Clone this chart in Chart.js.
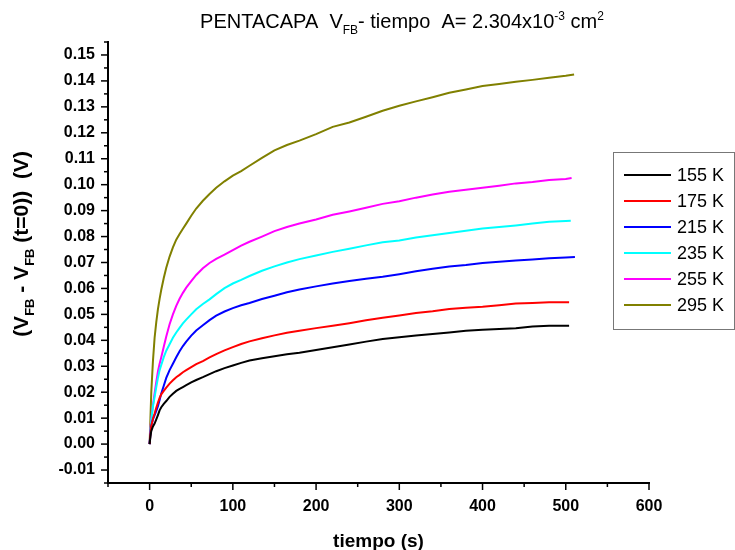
<!DOCTYPE html>
<html>
<head>
<meta charset="utf-8">
<script src="https://cdn.jsdelivr.net/npm/chart.js@4.4.0/dist/chart.umd.min.js"></script>
<style>
  html, body { margin: 0; padding: 0; background: #fff; }
</style>
</head>
<body>
<canvas id="chart" width="735" height="550"></canvas>
<script>
// tiempo (s), comun a todas las curvas
const tiempo = [0, 1, 2, 4, 6, 8, 10, 12, 14, 17, 20, 24, 28, 32, 36, 40, 44, 50, 56, 64, 72, 80, 90, 100,
  110, 120, 135, 150, 165, 180, 200, 220, 240, 260, 280, 300, 320, 340, 360, 380, 400, 420, 440, 460, 480, 500];
// ultimo punto de cada curva
const tiempoFinal = [504, 504, 511, 506, 507, 510];

// V_FB - V_FB(t=0)  (V)
const v155 = [0, 0.003, 0.005, 0.0068, 0.0079, 0.0095, 0.0112, 0.0130, 0.0142, 0.0155, 0.0166, 0.0182, 0.0194, 0.0205, 0.0213, 0.0220, 0.0227, 0.0238, 0.0247, 0.0258, 0.0270, 0.0281, 0.0293, 0.0303,
  0.0313, 0.0322, 0.0331, 0.0339, 0.0346, 0.0352, 0.0363, 0.0373, 0.0384, 0.0395, 0.0405, 0.0412, 0.0419, 0.0424, 0.0430, 0.0437, 0.0441, 0.0444, 0.0447, 0.0453, 0.0456, 0.0456, 0.0456];
const v175 = [0, 0.004, 0.007, 0.0098, 0.0118, 0.0140, 0.0160, 0.0178, 0.0192, 0.0205, 0.0218, 0.0233, 0.0246, 0.0258, 0.0267, 0.0277, 0.0285, 0.0297, 0.0308, 0.0320, 0.0334, 0.0347, 0.0361, 0.0374,
  0.0386, 0.0396, 0.0408, 0.0419, 0.0429, 0.0437, 0.0447, 0.0456, 0.0466, 0.0477, 0.0487, 0.0496, 0.0505, 0.0512, 0.0521, 0.0526, 0.0529, 0.0535, 0.0542, 0.0544, 0.0547, 0.0547, 0.0547];
const v215 = [0, 0.004, 0.007, 0.0095, 0.0112, 0.0128, 0.0146, 0.0170, 0.0195, 0.0225, 0.0255, 0.0285, 0.0310, 0.0335, 0.0358, 0.0378, 0.0395, 0.0418, 0.0438, 0.0458, 0.0478, 0.0495, 0.0511, 0.0524,
  0.0535, 0.0544, 0.0559, 0.0572, 0.0585, 0.0596, 0.0608, 0.0619, 0.0629, 0.0637, 0.0645, 0.0655, 0.0666, 0.0676, 0.0685, 0.0690, 0.0698, 0.0703, 0.0708, 0.0712, 0.0716, 0.0719, 0.0721];
const v235 = [0, 0.005, 0.009, 0.0145, 0.0182, 0.0220, 0.0255, 0.0285, 0.0305, 0.0335, 0.0360, 0.0385, 0.0410, 0.0430, 0.0448, 0.0465, 0.0480, 0.0500, 0.0520, 0.0540, 0.0558, 0.0578, 0.0601, 0.0619,
  0.0633, 0.0648, 0.0668, 0.0685, 0.0700, 0.0713, 0.0727, 0.0741, 0.0753, 0.0766, 0.0778, 0.0785, 0.0796, 0.0805, 0.0814, 0.0822, 0.0831, 0.0837, 0.0843, 0.0850, 0.0857, 0.0860, 0.0861];
const v255 = [0, 0.006, 0.010, 0.0150, 0.0195, 0.0240, 0.0280, 0.0310, 0.0335, 0.0375, 0.0415, 0.0462, 0.0500, 0.0533, 0.0560, 0.0583, 0.0603, 0.0628, 0.0652, 0.0678, 0.0698, 0.0714, 0.0730, 0.0748,
  0.0765, 0.0780, 0.0800, 0.0821, 0.0837, 0.0850, 0.0866, 0.0884, 0.0897, 0.0911, 0.0926, 0.0936, 0.0950, 0.0962, 0.0973, 0.0980, 0.0988, 0.0996, 0.1005, 0.1010, 0.1018, 0.1022, 0.1026];
const v295 = [0, 0.010, 0.020, 0.032, 0.041, 0.047, 0.052, 0.056, 0.0595, 0.0640, 0.0680, 0.0723, 0.0758, 0.0788, 0.0810, 0.0830, 0.0850, 0.0880, 0.0908, 0.0938, 0.0964, 0.0988, 0.1013, 0.1035,
  0.1052, 0.1073, 0.1103, 0.1132, 0.1153, 0.1170, 0.1195, 0.1223, 0.1240, 0.1262, 0.1285, 0.1304, 0.1321, 0.1337, 0.1354, 0.1367, 0.1380, 0.1388, 0.1397, 0.1404, 0.1412, 0.1420, 0.1425];

const series = ['155 K', '175 K', '215 K', '235 K', '255 K', '295 K'];
const valores = [v155, v175, v215, v235, v255, v295];
const colores = ['#000000', '#ff0000', '#0000ff', '#00ffff', '#ff00ff', '#808000'];

const fuente = '"Liberation Sans", Arial, sans-serif';

// texto con subindices / superindices: [texto, tamaño, desplazamiento vertical]
function anchoRico(ctx, partes, peso) {
  let w = 0;
  partes.forEach(p => {
    ctx.font = `${peso} ${p[1]}px ${fuente}`;
    w += ctx.measureText(p[0]).width;
  });
  return w;
}
function dibujaRico(ctx, partes, x, y, peso) {
  let cx = x;
  partes.forEach(p => {
    ctx.font = `${peso} ${p[1]}px ${fuente}`;
    ctx.fillText(p[0], cx, y + p[2]);
    cx += ctx.measureText(p[0]).width;
  });
}

const titulo = [['PENTACAPA  V', 20, 0], ['FB', 12, 6], ['- tiempo  A= 2.304x10', 20, 0], ['-3', 12, -8], [' cm', 20, 0], ['2', 12, -8]];
const tituloY = [['(V', 21, 0], ['FB', 13, 6], [' - V', 21, 0], ['FB', 13, 6], [' (t=0))  (V)', 21, 0]];

const extras = {
  id: 'extras',
  afterDraw(chart) {
    const ctx = chart.ctx;
    const sx = chart.scales.x, sy = chart.scales.y;
    ctx.save();
    ctx.strokeStyle = '#000';
    ctx.lineWidth = 1.5;
    // marcas de los ejes hacia fuera
    sx.ticks.forEach(t => {
      const px = sx.getPixelForValue(t.value);
      const largo = Math.round(t.value) % 100 === 0 ? 7 : 4;
      ctx.beginPath();
      ctx.moveTo(px, sx.top);
      ctx.lineTo(px, sx.top + largo);
      ctx.stroke();
    });
    sy.ticks.forEach(t => {
      const py = sy.getPixelForValue(t.value);
      const largo = Math.round(t.value * 1000) % 10 === 0 ? 7 : 4;
      ctx.beginPath();
      ctx.moveTo(sy.right, py);
      ctx.lineTo(sy.right - largo, py);
      ctx.stroke();
    });

    ctx.fillStyle = '#000';
    ctx.textBaseline = 'alphabetic';
    ctx.textAlign = 'left';
    // titulo
    const wt = anchoRico(ctx, titulo, 'normal');
    dibujaRico(ctx, titulo, 402 - wt / 2, 28, 'normal');

    // titulo eje x
    ctx.font = `bold 19px ${fuente}`;
    ctx.textAlign = 'center';
    ctx.fillText('tiempo (s)', (chart.chartArea.left + chart.chartArea.right) / 2, 547);
    ctx.textAlign = 'left';

    // titulo eje y
    ctx.save();
    ctx.translate(28, 244);
    ctx.rotate(-Math.PI / 2);
    const wy = anchoRico(ctx, tituloY, 'bold');
    dibujaRico(ctx, tituloY, -wy / 2, 0, 'bold');
    ctx.restore();

    // leyenda
    const lx = 613, ly = 152, lw = 121, lh = 177;
    ctx.fillStyle = '#fff';
    ctx.fillRect(lx, ly, lw, lh);
    ctx.strokeStyle = '#777';
    ctx.lineWidth = 1;
    ctx.strokeRect(lx + 0.5, ly + 0.5, lw, lh);
    ctx.font = `18px ${fuente}`;
    ctx.textBaseline = 'middle';
    chart.data.datasets.forEach((ds, i) => {
      const yy = 175 + i * 26;
      ctx.strokeStyle = ds.borderColor;
      ctx.lineWidth = 2;
      ctx.beginPath();
      ctx.moveTo(624, yy);
      ctx.lineTo(671, yy);
      ctx.stroke();
      ctx.fillStyle = '#000';
      ctx.fillText(ds.label, 677, yy + 1);
    });
    ctx.restore();
  }
};

const ctx = document.getElementById('chart').getContext('2d');
new Chart(ctx, {
  type: 'line',
  data: {
    datasets: series.map((nombre, i) => ({
      label: nombre,
      data: tiempo.concat([tiempoFinal[i]]).map((t, j) => ({ x: t, y: valores[i][j] })),
      borderColor: colores[i],
      backgroundColor: colores[i],
      borderWidth: 2,
      pointRadius: 0,
      tension: 0,
      fill: false
    }))
  },
  options: {
    responsive: false,
    animation: false,
    devicePixelRatio: 1,
    layout: { padding: { top: 42, right: 86, left: 0, bottom: 0 } },
    plugins: {
      legend: { display: false },
      tooltip: { enabled: false },
      title: { display: false }
    },
    scales: {
      x: {
        type: 'linear',
        min: -50,
        max: 600,
        afterFit: s => { s.height = 67; },
        grid: { display: false, drawTicks: false },
        border: { display: true, color: '#000', width: 2 },
        ticks: {
          stepSize: 50,
          autoSkip: false,
          maxRotation: 0,
          padding: 14,
          color: '#000',
          font: { family: fuente, size: 16, weight: 'bold' },
          callback: v => (Math.round(v) % 100 === 0 && v >= 0) ? String(Math.round(v)) : ''
        }
      },
      y: {
        min: -0.015,
        max: 0.155,
        afterFit: s => { s.width = 108; },
        grid: { display: false, drawTicks: false },
        border: { display: true, color: '#000', width: 2 },
        ticks: {
          stepSize: 0.005,
          maxTicksLimit: 100,
          autoSkip: false,
          padding: 13,
          color: '#000',
          font: { family: fuente, size: 16, weight: 'bold' },
          callback: v => {
            const k = Math.round(v * 1000);
            return k % 10 === 0 ? (Math.round(v * 100) / 100).toFixed(2) : '';
          }
        }
      }
    }
  },
  plugins: [extras]
});
</script>
</body>
</html>
